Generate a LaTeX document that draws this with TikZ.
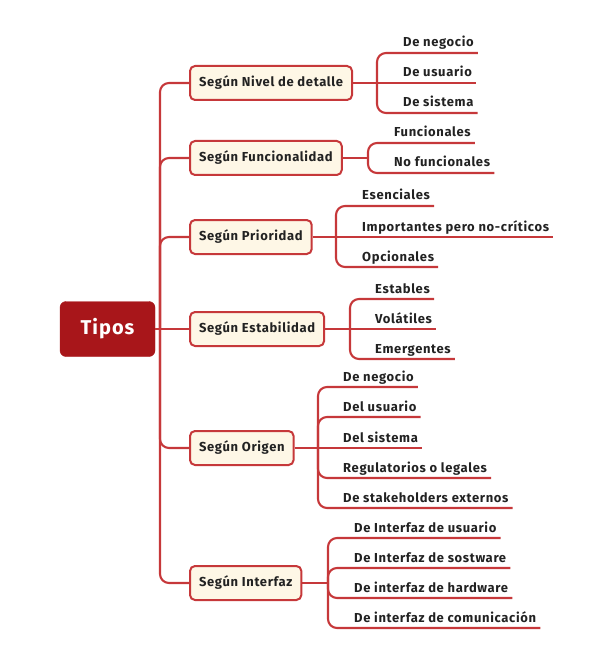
\documentclass[tikz,border=0pt]{standalone}
\usepackage{fontspec}
\setmainfont{Fira Sans}
\newfontfamily\lblfont[LetterSpace=5]{Fira Sans}
\usetikzlibrary{calc}
\definecolor{rootred}{RGB}{168,22,26}
\definecolor{linered}{RGB}{198,56,58}
\definecolor{cream}{RGB}{254,247,230}
\definecolor{txt}{RGB}{34,34,34}
\newcommand\myleafline[2]{\draw[conn] (#1) |- ($(#2.base east)+(4,6)$);}
\begin{document}
\begin{tikzpicture}[x=1pt,y=-1pt,
  conn/.style={draw=linered, line width=2.1pt, rounded corners=9pt},
  rootbox/.style={fill=rootred, draw=rootred, rounded corners=6pt, text=white,
    font=\lblfont\fontsize{20}{24}\selectfont\bfseries, minimum width=95pt, minimum height=55pt, inner sep=0pt},
  catbox/.style={fill=cream, draw=linered, line width=2pt, rounded corners=5pt, text=txt,
    font=\lblfont\fontsize{13}{15}\selectfont\bfseries, minimum height=34pt, inner xsep=9pt, anchor=west},
  leaf/.style={text=txt, font=\lblfont\fontsize{13}{15}\selectfont\bfseries, inner sep=0pt, anchor=base west},
]
\useasboundingbox (0,0) rectangle (608,660);

% root
\node[rootbox] (root) at (107.5,329) {Tipos};
\coordinate (tr) at (160,329);

% categories
\node[catbox] (n1) at (189,83) {Según Nivel de detalle};
\node[catbox] (n2) at (189,158) {Según Funcionalidad};
\node[catbox] (n3) at (189,237) {Según Prioridad};
\node[catbox] (n4) at (189,329) {Según Estabilidad};
\node[catbox] (n5) at (189,448) {Según Origen};
\node[catbox] (n6) at (189,583) {Según Interfaz};

% trunk
\draw[conn] (root.east) -- (n4.west);
\draw[conn] (tr) |- (n1.west);
\draw[conn] (tr) |- (n2.west);
\draw[conn] (tr) |- (n3.west);
\draw[conn] (tr) |- (n5.west);
\draw[conn] (tr) |- (n6.west);

% leaves n1
\coordinate (b1) at (377,83);
\node[leaf] (a11) at (403,47) {De negocio};
\node[leaf] (a12) at (403,77) {De usuario};
\node[leaf] (a13) at (403,107) {De sistema};
\draw[conn] (n1.east) -- ($(a12.base east)+(4,6)$);
\myleafline{b1}{a11}
\myleafline{b1}{a13}

% leaves n2
\coordinate (b2) at (368,158);
\node[leaf] (a21) at (394,137) {Funcionales};
\node[leaf] (a22) at (394,167) {No funcionales};
\draw[conn] (n2.east) -- (b2);
\myleafline{b2}{a21}
\myleafline{b2}{a22}

% leaves n3
\coordinate (b3) at (336,237);
\node[leaf] (a31) at (362,200) {Esenciales};
\node[leaf] (a32) at (362,231) {Importantes pero no-críticos};
\node[leaf] (a33) at (362,261) {Opcionales};
\draw[conn] (n3.east) -- ($(a32.base east)+(4,6)$);
\myleafline{b3}{a31}
\myleafline{b3}{a33}

% leaves n4
\coordinate (b4) at (350,329);
\node[leaf] (a41) at (375,293) {Estables};
\node[leaf] (a42) at (375,323) {Volátiles};
\node[leaf] (a43) at (375,353) {Emergentes};
\draw[conn] (n4.east) -- ($(a42.base east)+(4,6)$);
\myleafline{b4}{a41}
\myleafline{b4}{a43}

% leaves n5
\coordinate (b5) at (318,448);
\node[leaf] (a51) at (343,381) {De negocio};
\node[leaf] (a52) at (343,411) {Del usuario};
\node[leaf] (a53) at (343,442) {Del sistema};
\node[leaf] (a54) at (343,472) {Regulatorios o legales};
\node[leaf] (a55) at (343,502) {De stakeholders externos};
\draw[conn] (n5.east) -- ($(a53.base east)+(4,6)$);
\myleafline{b5}{a51}
\myleafline{b5}{a52}
\myleafline{b5}{a54}
\myleafline{b5}{a55}

% leaves n6
\coordinate (b6) at (328,583);
\node[leaf] (a61) at (354,532) {De Interfaz de usuario};
\node[leaf] (a62) at (354,562) {De Interfaz de sostware};
\node[leaf] (a63) at (354,592) {De interfaz de hardware};
\node[leaf] (a64) at (354,622) {De interfaz de comunicación};
\draw[conn] (n6.east) -- (b6);
\myleafline{b6}{a61}
\myleafline{b6}{a62}
\myleafline{b6}{a63}
\myleafline{b6}{a64}
\end{tikzpicture}
\end{document}
